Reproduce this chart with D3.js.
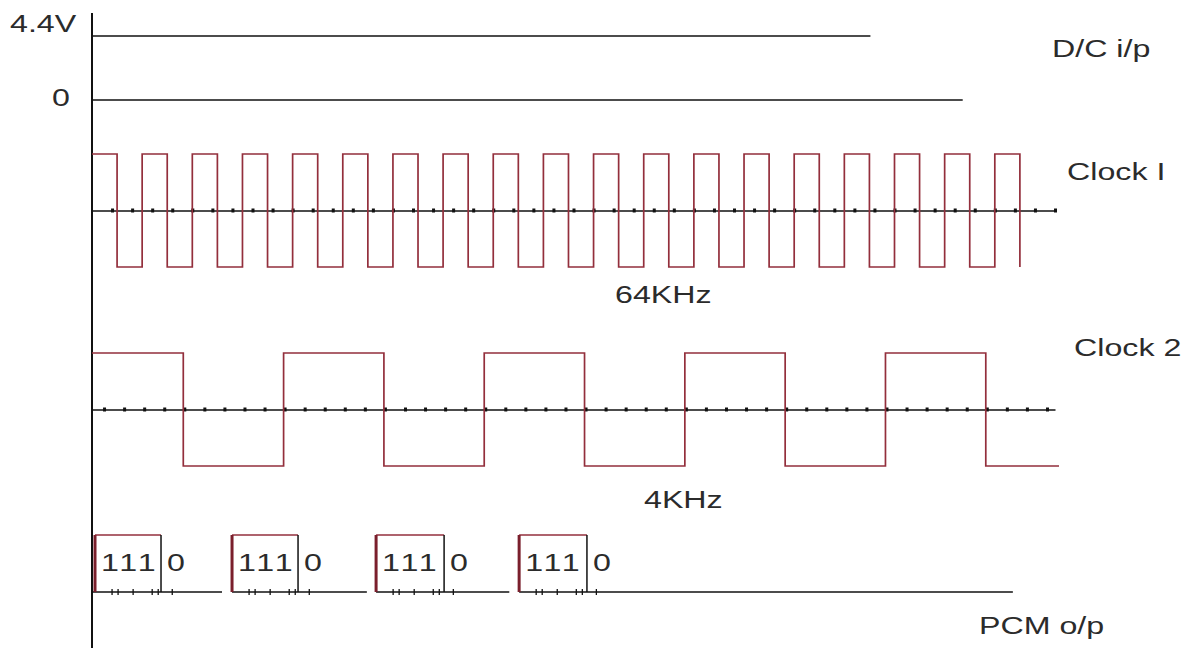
<!DOCTYPE html>
<html>
<head>
<meta charset="utf-8">
<script src="https://cdn.jsdelivr.net/npm/d3@7"></script>
<style>
body { margin: 0; background: #fff; }
text { font-family: "Liberation Sans", Arial, sans-serif; font-size: 23px; fill: #2b2b2b; }
text.bit { letter-spacing: 2px; }
</style>
</head>
<body>
<svg id="chart" width="1193" height="648"></svg>
<script>
// podatki (cas v enotah = 1 razdelek na osi)
var dcLabels = ["4.4V", "0"];
var dcLevels = [4.4, 0];
var dcEnds = [38.8, 43.4];

var clock1Times = [0, 1.25, 2.5, 3.75, 5, 6.25, 7.5, 8.75, 10, 11.25, 12.5, 13.75, 15, 16.25,
  17.5, 18.75, 20, 21.25, 22.5, 23.75, 25, 26.25, 27.5, 28.75, 30, 31.25, 32.5, 33.75,
  35, 36.25, 37.5, 38.75, 40, 41.25, 42.5, 43.75, 45, 46.25];
var clock1Levels = [1, 0, 1, 0, 1, 0, 1, 0, 1, 0, 1, 0, 1, 0, 1, 0, 1, 0, 1, 0,
  1, 0, 1, 0, 1, 0, 1, 0, 1, 0, 1, 0, 1, 0, 1, 0, 1, 0];

var clock2Times = [0, 4.55, 9.55, 14.55, 19.55, 24.55, 29.55, 34.55, 39.55, 44.55, 48.2];
var clock2Levels = [1, 0, 1, 0, 1, 0, 1, 0, 1, 0, 0];

var pcmStarts = [0.15, 6.98, 14.16, 21.29];
var pcmEnds = [3.44, 10.27, 17.55, 24.67];
var pcmLineEnds = [6.48, 13.7, 20.8, 45.9];
var pcmBits = ["111", "0"];
var pcmTickOffsets = [0.85, 1.15, 1.9, 2.85, 3.15, 3.85];

var signalNames = ["D/C i/p", "Clock I", "Clock 2", "PCM o/p"];
var freqLabels = ["64KHz", "4KHz"];

// --------------------------------------------------------------------------

var red = "#932f3c";
var ink = "#111";
var stretch = 1.4; // besedilo v originalu je raztegnjeno

var svg = d3.select("#chart");

var x = d3.scaleLinear().domain([0, 48]).range([92, 1055]);
var vY = d3.scaleLinear().domain([0, 4.4]).range([100, 36]);
var c1Y = d3.scaleLinear().domain([0, 1]).range([267, 154]);
var c2Y = d3.scaleLinear().domain([0, 1]).range([466, 353]);
var pcmY = d3.scaleLinear().domain([0, 1]).range([592, 535]);

function label(txt, px, py, cls) {
  svg.append("text")
    .attr("class", cls || null)
    .attr("transform", `translate(${px},${py}) scale(${stretch},1)`)
    .text(txt);
}

// navpicna os
svg.append("line")
  .attr("x1", x(0)).attr("x2", x(0))
  .attr("y1", 13).attr("y2", 648)
  .attr("stroke", ink).attr("stroke-width", 2);

// D/C vhod
svg.selectAll("line.dc")
  .data(dcLevels)
  .enter().append("line")
    .attr("class", "dc")
    .attr("x1", x(0))
    .attr("x2", (d, i) => x(dcEnds[i]))
    .attr("y1", d => vY(d))
    .attr("y2", d => vY(d))
    .attr("stroke", ink)
    .attr("stroke-width", 1.5);

label(dcLabels[0], 10, 32);
label(dcLabels[1], 52, 106);

// casovne osi s pikami
function timeAxis(yPos, ticks) {
  var g = svg.append("g")
    .attr("transform", `translate(0,${yPos})`)
    .call(d3.axisBottom(x).tickValues(ticks).tickSizeInner(3).tickSizeOuter(0).tickFormat(""));
  g.select(".domain").attr("stroke", ink).attr("stroke-width", 1.5);
  g.selectAll(".tick line")
    .attr("y1", -2).attr("y2", 2)
    .attr("stroke", ink).attr("stroke-width", 3);
}

timeAxis(c1Y(0.5), d3.range(1, 49, 1));
timeAxis(c2Y(0.5), d3.range(0.6, 48.5, 1));

// ura 1 in ura 2
function wave(times, levels, yScale) {
  var pts = times.map((t, i) => [t, levels[i]]);
  var line = d3.line()
    .x(d => x(d[0]))
    .y(d => yScale(d[1]))
    .curve(d3.curveStepAfter);
  svg.append("path")
    .attr("d", line(pts))
    .attr("fill", "none")
    .attr("stroke", red)
    .attr("stroke-width", 1.7);
}

wave(clock1Times, clock1Levels, c1Y);
wave(clock2Times, clock2Levels, c2Y);

label(signalNames[0], 1052, 57);
label(signalNames[1], 1067, 180);
label(freqLabels[0], 615, 303);
label(signalNames[2], 1074, 356);
label(freqLabels[1], 644, 508);

// PCM izhod
var pcm = svg.append("g");

pcm.selectAll("line.base")
  .data(pcmStarts)
  .enter().append("line")
    .attr("class", "base")
    .attr("x1", (d, i) => i == 0 ? x(0) : x(d))
    .attr("x2", (d, i) => x(pcmLineEnds[i]))
    .attr("y1", pcmY(0)).attr("y2", pcmY(0))
    .attr("stroke", ink).attr("stroke-width", 1.5);

pcm.selectAll("line.top")
  .data(pcmStarts)
  .enter().append("line")
    .attr("class", "top")
    .attr("x1", d => x(d))
    .attr("x2", (d, i) => x(pcmEnds[i]))
    .attr("y1", pcmY(1)).attr("y2", pcmY(1))
    .attr("stroke", red).attr("stroke-width", 1.5);

pcm.selectAll("line.rise")
  .data(pcmStarts)
  .enter().append("line")
    .attr("class", "rise")
    .attr("x1", d => x(d)).attr("x2", d => x(d))
    .attr("y1", pcmY(1)).attr("y2", pcmY(0))
    .attr("stroke", "#7a1f2c").attr("stroke-width", 3);

pcm.selectAll("line.fall")
  .data(pcmEnds)
  .enter().append("line")
    .attr("class", "fall")
    .attr("x1", d => x(d)).attr("x2", d => x(d))
    .attr("y1", pcmY(1)).attr("y2", pcmY(0))
    .attr("stroke", ink).attr("stroke-width", 1.5);

// drobne oznake pod impulzi
pcmStarts.forEach(function(s) {
  pcm.selectAll(null)
    .data(pcmTickOffsets)
    .enter().append("line")
      .attr("x1", d => x(s + d)).attr("x2", d => x(s + d))
      .attr("y1", pcmY(0) - 3).attr("y2", pcmY(0) + 3)
      .attr("stroke", ink).attr("stroke-width", 1.3);
});

pcmStarts.forEach(function(s, i) {
  label(pcmBits[0], x(s) + 6, 571, "bit");
  label(pcmBits[1], x(pcmEnds[i]) + 6, 571);
});

label(signalNames[3], 979, 634);
</script>
</body>
</html>
